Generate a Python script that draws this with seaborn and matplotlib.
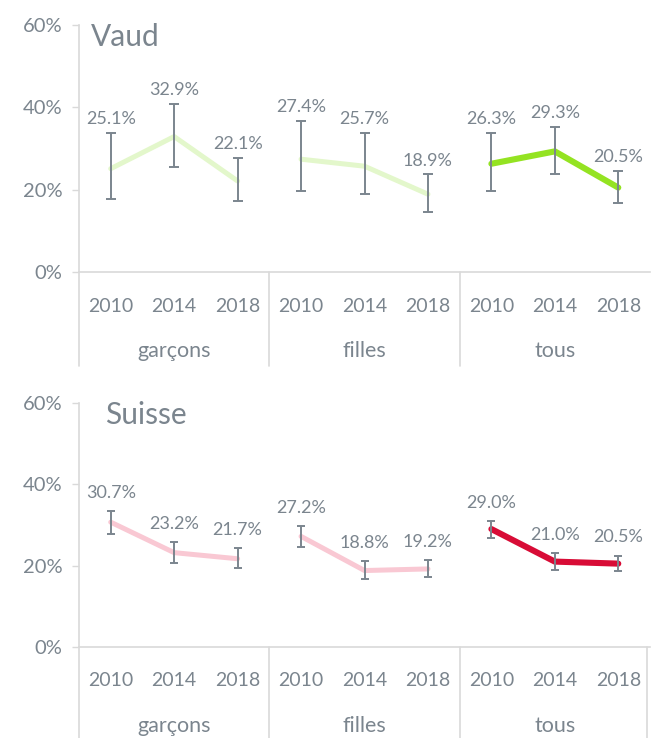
import matplotlib
matplotlib.use("Agg")
import matplotlib.pyplot as plt
import matplotlib.transforms as mtransforms
import seaborn as sns
import pandas as pd
import numpy as np

# ---------------- data ----------------
groups = ["garçons", "filles", "tous"]
years = ["2010", "2014", "2018"]

vaud_values = [25.1, 32.9, 22.1, 27.4, 25.7, 18.9, 26.3, 29.3, 20.5]
vaud_low = [17.8, 25.4, 17.2, 19.6, 18.9, 14.6, 19.7, 23.8, 16.7]
vaud_high = [33.7, 40.9, 27.7, 36.7, 33.7, 23.7, 33.7, 35.3, 24.6]

suisse_values = [30.7, 23.2, 21.7, 27.2, 18.8, 19.2, 29.0, 21.0, 20.5]
suisse_low = [27.9, 20.7, 19.4, 24.6, 16.6, 17.1, 26.8, 19.0, 18.7]
suisse_high = [33.4, 25.7, 24.3, 29.8, 21.1, 21.5, 31.0, 23.0, 22.5]

yticks = [0, 20, 40, 60]
panels = ["Vaud", "Suisse"]

# ---------------- style ----------------
sns.set_theme(style="white")
plt.rcParams["font.family"] = ["Lato", "DejaVu Sans"]
TXT = "#7b858e"
GRID = "#d9d9d9"
ERR = "#7b858e"

vaud_palette = {"garçons": "#e3f7cb", "filles": "#e3f7cb", "tous": "#94e322"}
suisse_palette = {"garçons": "#f9c8d3", "filles": "#f9c8d3", "tous": "#d80c36"}
sizes = {"garçons": 3.6, "filles": 3.6, "tous": 4.4}

W, H = 651, 738
fig = plt.figure(figsize=(W / 100, H / 100), dpi=100)


def make_df(values, low, high):
    rows = []
    for gi, g in enumerate(groups):
        for yi, y in enumerate(years):
            k = gi * len(years) + yi
            rows.append(dict(group=g, year=y, pos=k, value=values[k],
                             low=low[k], high=high[k]))
    return pd.DataFrame(rows)


def draw_panel(rect, title, title_xy, values, low, high, palette, cap,
               lab_off, below_px, right_box):
    ax = fig.add_axes(rect)
    df = make_df(values, low, high)
    sns.lineplot(data=df, x="pos", y="value", hue="group", size="group",
                 palette=palette, sizes=sizes, legend=False, ax=ax,
                 solid_capstyle="round", zorder=2)
    ax.errorbar(df["pos"], df["value"],
                yerr=[df["value"] - df["low"], df["high"] - df["value"]],
                fmt="none", ecolor=ERR, elinewidth=1.4, capsize=cap,
                capthick=1.4, zorder=3)
    for _, r in df.iterrows():
        ax.annotate(f"{r['value']:.1f}%", (r["pos"], r["high"]),
                    xytext=(0, lab_off), textcoords="offset points",
                    ha="center", va="center", color=TXT, fontsize=13)

    ax.set_xlim(-0.5, len(df) - 0.5)
    ax.set_ylim(0, 60)
    ax.set_yticks(yticks)
    ax.set_yticklabels([f"{t}%" for t in yticks], color=TXT, fontsize=14.5)
    ax.set_xticks([])
    ax.set_xlabel("")
    ax.set_ylabel("")
    ax.tick_params(axis="y", length=5, width=1, color=GRID, pad=7, left=True)
    for s in ["top", "right"]:
        ax.spines[s].set_visible(False)
    for s in ["left", "bottom"]:
        ax.spines[s].set_color(GRID)
        ax.spines[s].set_linewidth(1.2)

    ax_h_px = rect[3] * H
    below = -below_px / ax_h_px
    trans = mtransforms.blended_transform_factory(ax.transData, ax.transAxes)
    ng = len(groups)
    ny = len(years)
    for gi in range(ng):
        xs = gi * ny - 0.5
        ax.plot([xs, xs], [below, 0], transform=trans,
                color=GRID, lw=1.2, clip_on=False)
    if right_box:
        ax.plot([ng * ny - 0.55, ng * ny - 0.55], [below, 0], transform=trans,
                color=GRID, lw=1.2, clip_on=False)
    for _, r in df.iterrows():
        ax.text(r["pos"], -34 / ax_h_px, r["year"], transform=trans,
                ha="center", va="center", color=TXT, fontsize=14)
    for gi, g in enumerate(groups):
        ax.text(gi * ny + (ny - 1) / 2, -79 / ax_h_px, g, transform=trans,
                ha="center", va="center", color=TXT, fontsize=15.5)
    ax.text(title_xy[0], title_xy[1], title, transform=ax.transAxes,
            ha="left", va="center", color=TXT, fontsize=21.5)
    return ax


ax1 = draw_panel([79 / W, 1 - 272 / H, 571 / W, 247 / H], panels[0],
                 (0.02, 0.951), vaud_values, vaud_low, vaud_high,
                 vaud_palette, cap=3.3, lab_off=10, below_px=94,
                 right_box=False)
ax2 = draw_panel([79 / W, 1 - 647 / H, 571 / W, 244 / H], panels[1],
                 (0.045, 0.95), suisse_values, suisse_low, suisse_high,
                 suisse_palette, cap=2.6, lab_off=13, below_px=91,
                 right_box=True)

fig.savefig("out.png", dpi=100)
